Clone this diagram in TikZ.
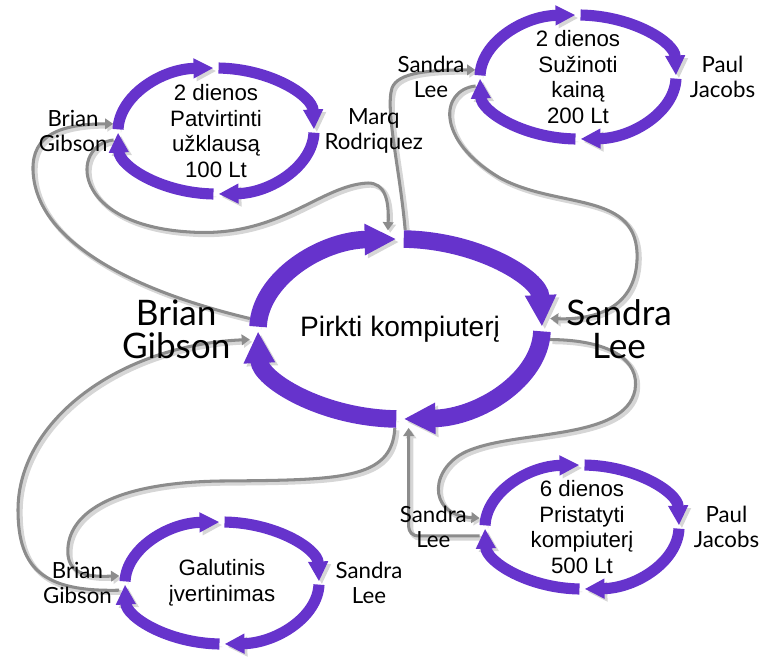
\documentclass[tikz,border=0pt]{standalone}
\usepackage{fontspec}
\setmainfont{Liberation Sans}
\newfontfamily\namefont{Lato}
\usetikzlibrary{arrows.meta,positioning,shapes.geometric,backgrounds}
\definecolor{ringviolet}{HTML}{6633CC}
\definecolor{linkgray}{HTML}{8C8C8C}
\definecolor{shadegray}{HTML}{D6D6D6}
\tikzset{
  ring/.style={ellipse, inner sep=0pt, outer sep=0pt,
    minimum width=6.2cm, minimum height=4.08cm},
  bigring/.style={ring, minimum width=9.06cm, minimum height=5.94cm},
  arcpart/.style={draw=ringviolet, line width=9.5pt, -{Triangle[length=17pt,width=16pt]},
    preaction={draw=shadegray, transform canvas={shift={(2.5pt,-2.5pt)}}}},
  bigarcpart/.style={arcpart, line width=15pt, -{Triangle[length=27pt,width=25pt]}},
  task/.style={align=center, inner sep=0pt, font=\fontsize{19}{22}\selectfont},
  who/.style={align=center, inner sep=0pt, font=\namefont\fontsize{19}{21}\selectfont},
  bigwho/.style={who, font=\namefont\fontsize{30}{28}\selectfont},
  link/.style={draw=linkgray, line width=2.6pt, -{Triangle[length=7pt,width=9pt]},
    preaction={draw=shadegray, line width=4pt, transform canvas={shift={(2pt,-2pt)}}}},
}
% four arrowed quarters round a ring node
\newcommand{\ring}[4]{%
  \foreach \a in {0,90,180,270}
    \draw[#1] (#2.center) ++(\a+1.5:#3 and #4)
      arc[start angle=\a+1.5, end angle=\a+88.5, x radius=#3, y radius=#4];}

\begin{document}
\begin{tikzpicture}[x=0.03cm, y=-0.03cm]
  \useasboundingbox (0,0) rectangle (766,658);

  % rings
  \node[bigring] (main) at (400,329) {};
  \node[ring] (tl) at (216,131) {};
  \node[ring] (tr) at (578,77) {};
  \node[ring] (br) at (582,527) {};
  \node[ring] (bl) at (222,583) {};
  \ring{bigarcpart}{main}{142}{90}
  \ring{arcpart}{tl}{98}{63}
  \ring{arcpart}{tr}{98}{62}
  \ring{arcpart}{br}{97}{62}
  \ring{arcpart}{bl}{97}{61}

  % tasks
  \node[task, font=\fontsize{24}{28}\selectfont] (maint) at (main) {Pirkti kompiuterį};
  \node[task] (tlt) at (tl) {2 dienos\\Patvirtinti\\užklausą\\100 Lt};
  \node[task] (trt) at (tr) {2 dienos\\Sužinoti\\kainą\\200 Lt};
  \node[task] (brt) at (br) {6 dienos\\Pristatyti\\kompiuterį\\500 Lt};
  \node[task] (blt) at (bl) {Galutinis\\įvertinimas};

  % people
  \node[bigwho, left=0.55cm of main] (mainB) {Brian\\Gibson};
  \node[bigwho, right=0.45cm of main] (mainS) {Sandra\\Lee};
  \node[who, left=0.15cm of tl] (tlB) {Brian\\Gibson};
  \node[who, right=0.15cm of tl] (tlM) {Marq\\Rodriquez};
  \node[who, left=0.3cm of tr] (trS) {Sandra\\Lee};
  \node[who, right=0.25cm of tr] (trP) {Paul\\Jacobs};
  \node[who, left=0.35cm of br] (brS) {Sandra\\Lee};
  \node[who, right=0.25cm of br] (brP) {Paul\\Jacobs};
  \node[who, left=0.2cm of bl] (blB) {Brian\\Gibson};
  \node[who, right=0.3cm of bl] (blS) {Sandra\\Lee};

  % hand-overs
  \begin{scope}[on background layer]
    \draw[link] (main.176) .. controls (130,290) and (35,240) .. (33,170)
      .. controls (32,135) and (60,124) .. (tl.176);
    \draw[link] (tl.185) .. controls (70,145) and (70,225) .. (190,232)
      .. controls (280,238) and (320,185) .. (368,183)
      .. controls (385,183) and (389,200) .. (main.97);
    \draw[link] (main.87) .. controls (400,170) and (385,110) .. (392,88)
      .. controls (398,72) and (430,70) .. (tr.176);
    \draw[link] (tr.185) .. controls (440,90) and (435,140) .. (500,178)
      .. controls (560,210) and (640,190) .. (637,260)
      .. controls (635,305) and (600,320) .. (main.4);
    \draw[link] (main.-4) .. controls (610,340) and (640,360) .. (635,390)
      .. controls (625,440) and (520,430) .. (470,450)
      .. controls (430,465) and (425,515) .. (br.175);
    \draw[link, rounded corners=8pt] (br.185) -| (main.-85);
    \draw[link] (main.-93) .. controls (392,480) and (340,480) .. (220,481)
      .. controls (100,483) and (65,520) .. (68,555)
      .. controls (70,575) and (90,577) .. (bl.176);
    \draw[link] (bl.184) .. controls (45,592) and (18,570) .. (18,510)
      .. controls (18,420) and (120,345) .. (main.184);
  \end{scope}
\end{tikzpicture}
\end{document}
